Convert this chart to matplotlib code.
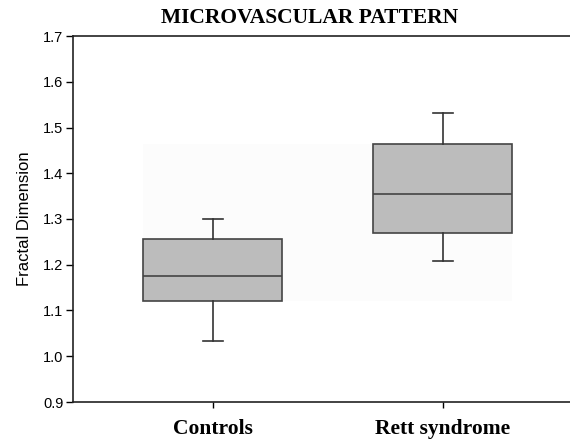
import matplotlib.pyplot as plt
from matplotlib.patches import Rectangle

# box statistics
groups = ['Controls', 'Rett syndrome']
whislo = [1.034, 1.208]
q1 = [1.121, 1.269]
med = [1.175, 1.355]
q3 = [1.256, 1.464]
whishi = [1.300, 1.531]
yticks = [0.9, 1.0, 1.1, 1.2, 1.3, 1.4, 1.5, 1.6, 1.7]

stats = []
for i in range(len(groups)):
    stats.append({'label': groups[i], 'whislo': whislo[i], 'q1': q1[i],
                  'med': med[i], 'q3': q3[i], 'whishi': whishi[i],
                  'fliers': []})

fig = plt.figure(figsize=(5.7, 4.43), dpi=100)
ax = fig.add_axes([73 / 570, 1 - 402 / 443, 497 / 570, 366 / 443])

pos = [1, 2]
w = 0.604
# faint background patch seen behind the boxes
ax.add_patch(Rectangle((pos[0] - w / 2, min(q1)), pos[1] - pos[0] + w,
                       max(q3) - min(q1), facecolor='#fcfcfc',
                       edgecolor='none', zorder=0))

line = dict(color='#333333', linewidth=1.2)
ax.bxp(stats, positions=pos, widths=w, patch_artist=True, showfliers=False,
       boxprops=dict(facecolor='#bcbcbc', edgecolor='#444444', linewidth=1.2),
       medianprops=dict(color='#444444', linewidth=1.2),
       whiskerprops=line, capprops=line, capwidths=0.087)

ax.set_xlim(0.3935, 2.554)
ax.set_ylim(0.9, 1.7)
ax.set_yticks(yticks)
ax.set_yticklabels(['%.1f' % v for v in yticks], fontsize=10.5, family='Liberation Sans')
ax.set_xticks(pos)
ax.set_xticklabels(groups, fontsize=15.5, fontweight='bold', family='Liberation Serif')
ax.tick_params(axis='y', length=5, width=1, direction='out', pad=2)
ax.tick_params(axis='x', length=4, width=1, direction='out', pad=8)
ax.spines['right'].set_visible(False)
for s in ['left', 'top', 'bottom']:
    ax.spines[s].set_linewidth(1.2)
    ax.spines[s].set_color('#222222')
ax.set_ylabel('Fractal Dimension', fontsize=12, family='Liberation Sans', labelpad=8)

fig.text(310 / 570, 1 - 18 / 443, 'MICROVASCULAR PATTERN', ha='center', va='center',
         fontsize=15.5, fontweight='bold', family='Liberation Serif')

fig.savefig('out.png', dpi=100)
